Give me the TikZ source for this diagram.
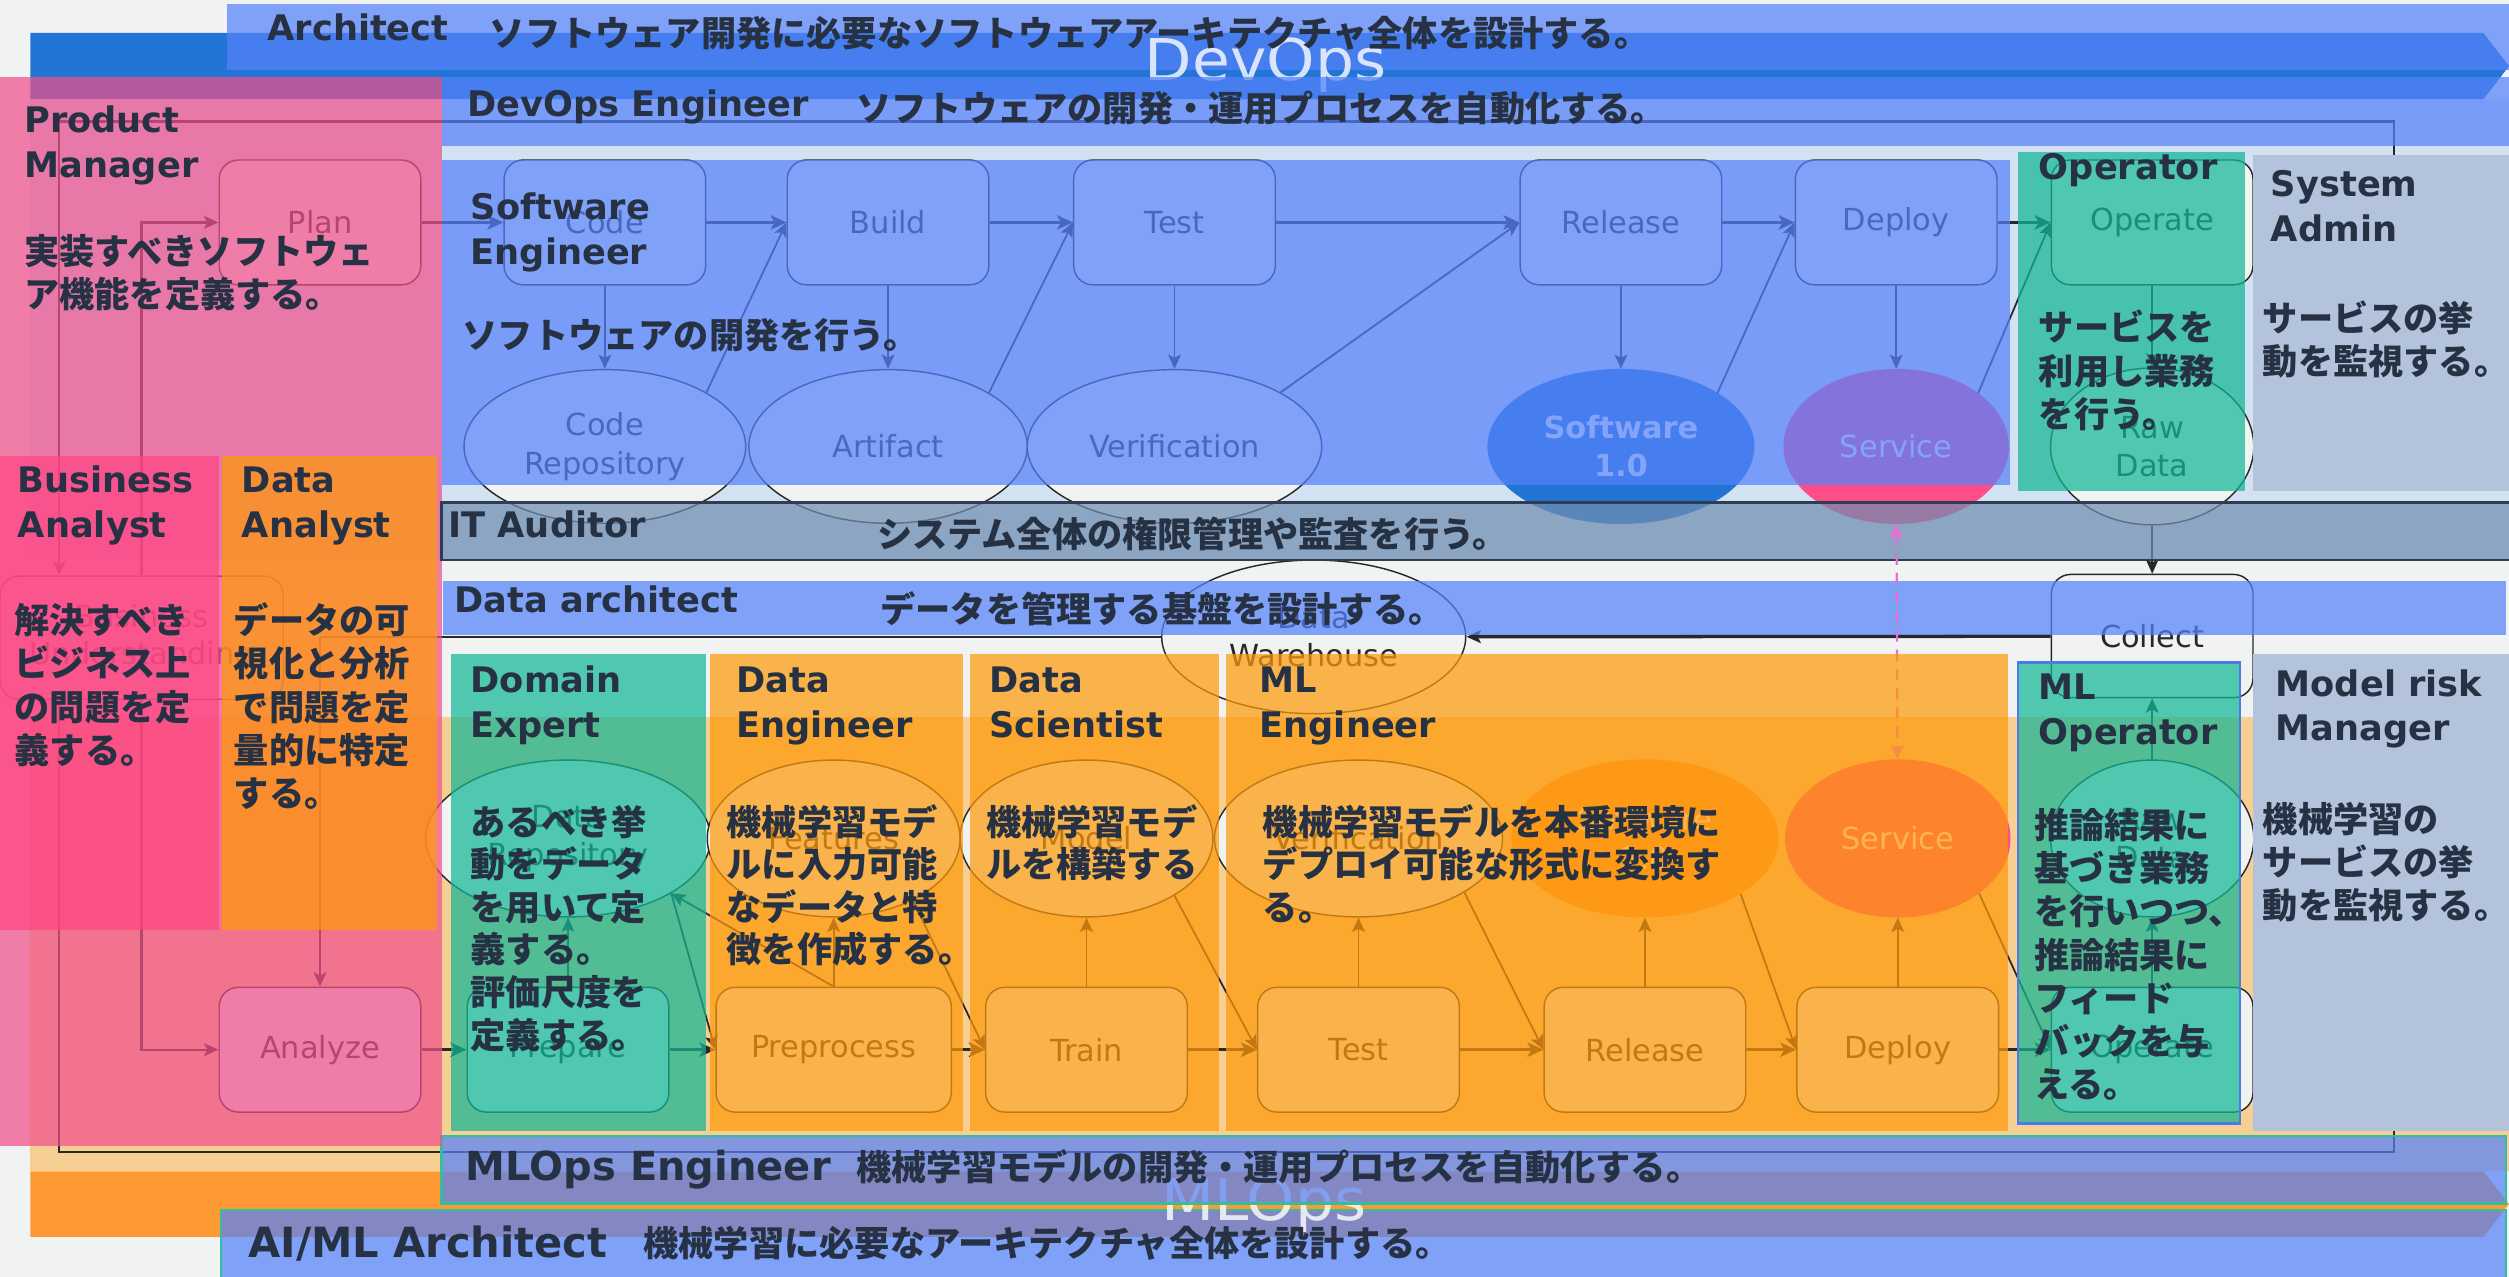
\documentclass[tikz,border=0pt]{standalone}
\usepackage{fontspec}
\usepackage{graphicx}
\setmainfont{DejaVu Sans}
\newfontfamily\jp{Noto Sans CJK JP}
\usetikzlibrary{arrows.meta,shapes.geometric}
\definecolor{bgc}{RGB}{241,243,243}
\definecolor{lanebl}{RGB}{211,226,242}
\definecolor{lanepe}{RGB}{248,207,146}
\definecolor{devblue}{RGB}{34,117,213}
\definecolor{mlorange}{RGB}{255,153,51}
\definecolor{ovblue}{RGB}{85,130,250}
\definecolor{ovpink}{RGB}{240,80,140}
\definecolor{ovhot}{RGB}{255,70,130}
\definecolor{ovorange}{RGB}{254,153,10}
\definecolor{ovteal}{RGB}{18,183,149}
\definecolor{ovslate}{RGB}{112,142,176}
\definecolor{slateline}{RGB}{48,60,80}
\definecolor{grayblue}{RGB}{180,195,220}
\definecolor{svcpink}{RGB}{255,77,136}
\definecolor{txtdark}{RGB}{38,50,68}
\definecolor{ink}{RGB}{40,40,40}
\definecolor{tealline}{RGB}{48,192,160}
\definecolor{mlopborder}{RGB}{74,123,232}
\definecolor{dashc}{RGB}{232,110,210}
\tikzset{
  fbox/.style={rectangle, rounded corners=12pt, draw=ink, line width=0.9pt, fill=bgc, text=ink,
    minimum width=126pt, minimum height=78pt, inner sep=2pt, align=center, font=\fontsize{19}{23}\selectfont},
  fell/.style={ellipse, draw=ink, line width=0.9pt, fill=bgc, text=ink, minimum height=96pt,
    inner sep=0pt, align=center, font=\fontsize{19}{24}\selectfont},
  flow/.style={draw=ink, line width=1.7pt, -{Stealth[length=10pt,width=9pt,inset=2.5pt]}},
  conn/.style={draw=ink, line width=1.1pt, -{Stealth[length=9pt,width=8pt,inset=2pt]}},
  ovl/.style={fill opacity=0.72},
  rtitle/.style={font=\bfseries\fontsize{22}{28}\selectfont, text=txtdark, inner sep=0pt, anchor=base west},
  rdesc/.style={font=\jp\bfseries\fontsize{22}{27}\selectfont, text=txtdark, inner sep=0pt, anchor=base west},
  bigw/.style={font=\fontsize{36}{36}\selectfont, text=white, text opacity=0.8, inner sep=0pt, anchor=base},
}
\newcommand\mlines[6]{\foreach \lin [count=\k from 0] in {#6} {\node[#1] (#2-\k) at (#3, #4+#5*\k) {\lin};}}
\begin{document}
\begin{tikzpicture}[x=1pt,y=-1pt]
\useasboundingbox (0,0) rectangle (1568,798);
\fill[bgc] (0,0) rectangle (1568,798);
% lanes
\fill[lanebl] (19,62) rectangle (1568,350);
\fill[lanepe] (19,448) rectangle (1568,732);
% big arrows
\fill[devblue] (19,20.6) -- (1552,20.6) -- (1568,41.3) -- (1552,62) -- (19,62) -- cycle;
\fill[mlorange] (19,732) -- (1552,732) -- (1568,752.5) -- (1552,773) -- (19,773) -- cycle;
% outer bands
\fill[ovblue, ovl] (142,2.5) rectangle (1568,44);
\filldraw[ovblue, fill opacity=0.72, draw=tealline, line width=1.5pt] (138,756) rectangle (1566,801);
\node[bigw] (devopsT) at (791,50) {\scalebox{1.07}[1]{DevOps}};
\node[bigw] (mlopsT) at (790,763) {\scalebox{1.07}[1]{MLOps}};

% ===== flow (under overlays) =====
\node[fbox] (plan) at (200,139) {Plan};
\node[fbox] (code) at (378,139) {Code};
\node[fbox] (build) at (555,139) {Build};
\node[fbox] (test) at (734,139) {Test};
\node[fbox] (rel) at (1013,139) {Release};
\node[fbox] (dep) at (1185,139) {Deploy};
\node[fbox] (op) at (1345,139) {Operate};
\node[fell, minimum width=176pt] (crepo) at (378,279) {Code\\Repository};
\node[fell, minimum width=174pt] (art) at (555,279) {Artifact};
\node[fell, minimum width=184pt] (ver) at (734,279) {Verification};
\node[fell, minimum width=166pt, fill=devblue, text=white, font=\bfseries\fontsize{19}{24}\selectfont, draw=devblue] (sw1) at (1013,279) {Software\\1.0};
\node[fell, minimum width=140pt, fill=svcpink, text=white, draw=svcpink] (svc) at (1185,279) {Service};
\node[fell, minimum width=127pt, minimum height=98pt] (raw) at (1345,279) {Raw\\Data};
\node[fbox, minimum height=77pt] (collect) at (1345,397.5) {Collect};
\node[fell, minimum width=190pt] (ware) at (821,398) {Data\\Warehouse};
\node[fbox, minimum width=177pt, minimum height=77pt] (bu) at (88.5,398.5) {Business\\Understanding};
\node[fbox] (analyze) at (200,656) {Analyze};
\node[fbox] (prep) at (355,656) {Prepare};
\node[fbox, minimum width=147pt] (pre) at (521,656) {Preprocess};
\node[fbox] (train) at (679,656) {Train};
\node[fbox] (test2) at (849,656) {Test};
\node[fbox] (rel2) at (1028,656) {Release};
\node[fbox] (dep2) at (1186,656) {Deploy};
\node[fbox] (op2) at (1345,656) {Operate};
\node[fell, minimum width=178pt, minimum height=98pt] (drepo) at (355,524) {Data\\Repository};
\node[fell, minimum width=158pt, minimum height=98pt] (feat) at (521,524) {Features};
\node[fell, minimum width=158pt, minimum height=98pt] (model) at (679,524) {Model};
\node[fell, minimum width=180pt, minimum height=98pt] (ver2) at (849,524) {Verification};
\node[fell, minimum width=166pt, minimum height=98pt, fill=mlorange, draw=mlorange, text=white] (sw2) at (1028,524) {Software\\2.0};
\node[fell, minimum width=140pt, minimum height=98pt, fill=svcpink, draw=svcpink, text=white] (svc2) at (1186,524) {Service};
\node[fell, minimum width=127pt, minimum height=98pt] (raw2) at (1345,524) {Raw\\Data};

\draw[flow] (plan) -- (code);
\draw[flow] (code) -- (build);
\draw[flow] (build) -- (test);
\draw[flow] (test) -- (rel);
\draw[flow] (rel) -- (dep);
\draw[flow] (dep) -- (op);
\draw[conn] (code) -- (crepo);
\draw[conn] (build) -- (art);
\draw[conn] (test) -- (ver);
\draw[conn] (rel) -- (sw1);
\draw[conn] (dep) -- (svc);
\draw[conn] (op) -- (raw);
\draw[conn] (crepo.28) -- (build.west);
\draw[conn] (art.28) -- (test.west);
\draw[conn] (ver.27) -- (rel.west);
\draw[conn] (sw1.29) -- (dep.west);
\draw[conn] (svc.33) -- (op.west);

\draw[flow] (analyze) -- (prep);
\draw[flow] (prep) -- (pre);
\draw[flow] (pre) -- (train);
\draw[flow] (train) -- (test2);
\draw[flow] (test2) -- (rel2);
\draw[flow] (rel2) -- (dep2);
\draw[flow] (dep2) -- (op2);
\draw[conn] (prep) -- (drepo);
\draw[conn] (pre) -- (feat);
\draw[conn] (train) -- (model);
\draw[conn] (test2) -- (ver2);
\draw[conn] (rel2) -- (sw2);
\draw[conn] (dep2) -- (svc2);
\draw[conn] (op2) -- (raw2);
\draw[conn] (drepo.-28) -- (pre.west);
\draw[conn] (pre.north) -- (drepo.-28);
\draw[conn] (feat.-38) -- (train.west);
\draw[conn] (model.-33) -- (test2.west);
\draw[conn] (ver2.-27) -- (rel2.west);
\draw[conn] (sw2.-30) -- (dep2.west);
\draw[conn] (svc2.-34) -- (op2.west);

\draw[conn] (raw) -- (collect);
\draw[conn] (raw2) -- (collect);
\draw[conn, line width=2.2pt] (collect) -- (ware);
\draw[conn, line width=1.6pt] (ware.west) -| (analyze.north);
\draw[conn, line width=1.4pt] (bu.north) |- (plan.west);
\draw[conn, line width=1.4pt] (bu.south) |- (analyze.west);
\coordinate (montop) at (1496,97);
\coordinate (monbot) at (1496,706);
\coordinate (leftx) at (37,76);
\draw[conn, line width=1.5pt] (montop) |- (leftx) -- (leftx |- bu.north);
\draw[draw=ink, line width=1.6pt] (monbot) |- (37,720) -- (leftx |- bu.south);

% ===== overlays =====
\fill[ovblue, ovl] (276,48) rectangle (1568,91);
\filldraw[ovblue, fill opacity=0.72, draw=tealline, line width=1.5pt] (276,710) rectangle (1566,752);
\fill[ovpink, ovl] (0,48) rectangle (276,716);
\fill[ovhot, ovl] (0,285) rectangle (137,581);
\fill[ovorange, ovl] (139,285) rectangle (273,581);
\fill[ovblue, ovl] (276,100) rectangle (1256,303);
\fill[ovteal, ovl] (1261,95) rectangle (1403,307);
\fill[grayblue] (1408,97) rectangle (1568,307);
\filldraw[ovslate, fill opacity=0.72, draw=slateline, line width=1.5pt] (276,314) rectangle (1572,350);
\fill[ovblue, ovl] (277,363) rectangle (1566,397);
\draw[draw=dashc, line width=1.4pt, dash pattern=on 7pt off 5pt,
  {Stealth[length=9pt,width=8pt,inset=2pt]}-{Stealth[length=9pt,width=8pt,inset=2pt]}] (svc) -- (svc2);
\fill[ovteal, ovl] (282,409) rectangle (441,707);
\fill[ovorange, ovl] (444,409) rectangle (602,707);
\fill[ovorange, ovl] (606,409) rectangle (762,707);
\fill[ovorange, ovl] (766,409) rectangle (1255,707);
\filldraw[ovteal, fill opacity=0.72, draw=mlopborder, line width=1.5pt] (1261,414) rectangle (1400,702);
\fill[grayblue] (1408,409) rectangle (1568,707);

% ===== texts =====
\node[rtitle] (t-arch) at (167,25) {Architect};
\node[rdesc] (d-arch) at (306,29) {ソフトウェア開発に必要なソフトウェアアーキテクチャ全体を設計する。};
\node[rtitle] (t-devops) at (292,73) {DevOps Engineer};
\node[rdesc] (d-devops) at (535,76) {ソフトウェアの開発・運用プロセスを自動化する。};
\node[rtitle] (t-it) at (280,336) {IT Auditor};
\node[rdesc] (d-it) at (548,342) {システム全体の権限管理や監査を行う。};
\node[rtitle] (t-da) at (284,383) {Data architect};
\node[rdesc] (d-da) at (550,389) {データを管理する基盤を設計する。};
\node[rtitle, font=\bfseries\fontsize{25}{28}\selectfont] (t-mlops) at (291,738) {MLOps Engineer};
\node[rdesc] (d-mlops) at (535,738) {機械学習モデルの開発・運用プロセスを自動化する。};
\node[rtitle, font=\bfseries\fontsize{26}{28}\selectfont] (t-aiml) at (155,786) {AI/ML Architect};
\node[rdesc] (d-aiml) at (402,785) {機械学習に必要なアーキテクチャ全体を設計する。};

\mlines{rtitle}{pm}{15}{83}{28}{Product,Manager}
\mlines{rdesc}{pmd}{15}{165}{27}{実装すべきソフトウェ,ア機能を定義する。}
\mlines{rtitle}{se}{294}{137}{28}{Software,Engineer}
\mlines{rdesc}{sed}{289}{218}{27}{ソフトウェアの開発を行う。}
\mlines{rtitle}{opr}{1274}{112}{28}{Operator}
\mlines{rdesc}{oprd}{1274}{213}{27}{サービスを,利用し業務,を行う。}
\mlines{rtitle}{sa}{1419}{123}{28}{System,Admin}
\mlines{rdesc}{sad}{1414}{207}{27}{サービスの挙,動を監視する。}
\mlines{rtitle}{ba}{11}{308}{28}{Business,Analyst}
\mlines{rdesc}{bad}{9}{396}{27}{解決すべき,ビジネス上,の問題を定,義する。}
\mlines{rtitle}{dan}{151}{308}{28}{Data,Analyst}
\mlines{rdesc}{dand}{146}{396}{27}{データの可,視化と分析,で問題を定,量的に特定,する。}
\mlines{rtitle}{de}{294}{433}{28}{Domain,Expert}
\mlines{rdesc}{ded}{294}{522}{26.6}{あるべき挙,動をデータ,を用いて定,義する。,評価尺度を,定義する。}
\mlines{rtitle}{den}{460}{433}{28}{Data,Engineer}
\mlines{rdesc}{dend}{454}{522}{26.6}{機械学習モデ,ルに入力可能,なデータと特,徴を作成する。}
\mlines{rtitle}{ds}{618}{433}{28}{Data,Scientist}
\mlines{rdesc}{dsd}{616}{522}{26.6}{機械学習モデ,ルを構築する}
\mlines{rtitle}{mle}{787}{433}{28}{ML,Engineer}
\mlines{rdesc}{mled}{789}{522}{26.6}{機械学習モデルを本番環境に,デプロイ可能な形式に変換す,る。}
\mlines{rtitle}{mlo}{1274}{437}{28}{ML,Operator}
\mlines{rdesc}{mlod}{1271}{524}{27}{推論結果に,基づき業務,を行いつつ、,推論結果に,フィード,バックを与,える。}
\mlines{rtitle}{mrm}{1422}{435}{28}{Model risk,Manager}
\mlines{rdesc}{mrmd}{1414}{520}{27}{機械学習の,サービスの挙,動を監視する。}
\end{tikzpicture}
\end{document}
